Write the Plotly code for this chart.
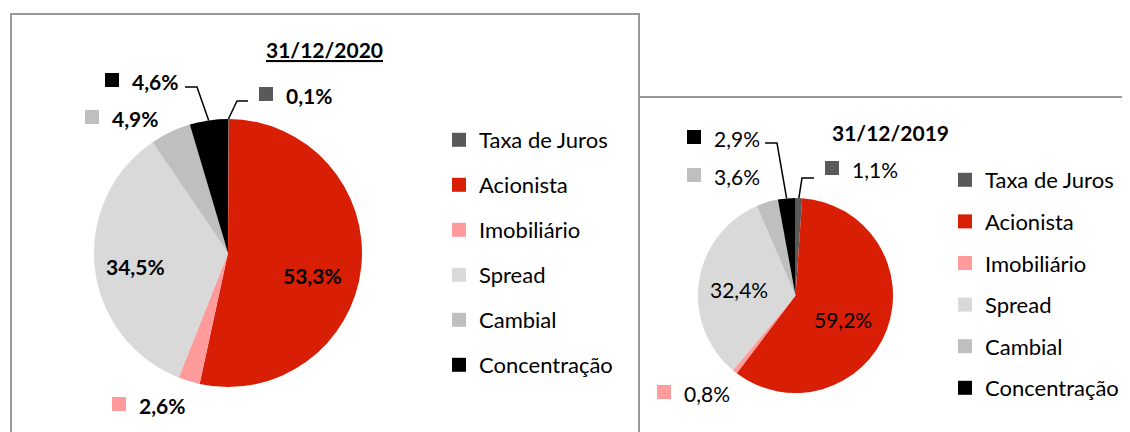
import math
import plotly.graph_objects as go

# ---------------- data ----------------
categories = ["Taxa de Juros", "Acionista", "Imobiliário", "Spread", "Cambial", "Concentração"]
values_2020 = [0.1, 53.3, 2.6, 34.5, 4.9, 4.6]
values_2019 = [1.1, 59.2, 0.8, 32.4, 3.6, 2.9]
title_2020 = "31/12/2020"
title_2019 = "31/12/2019"
colors = ["#595959", "#D91E06", "#FF9B9B", "#D9D9D9", "#BFBFBF", "#000000"]

# ---------------- layout helpers ----------------
PAGE_OFFSET = 8            # default body margin of the html page
W, H = 1130 - PAGE_OFFSET, 432 - PAGE_OFFSET
FONT = "Lato, 'Open Sans', sans-serif"
FS = 21
FS_LEG = 22


def X(px):
    return (px - PAGE_OFFSET) / W


def Y(py):
    return 1 - (py - PAGE_OFFSET) / H


def fmt(v):
    return f"{v:.1f}%".replace(".", ",")


# pie geometry (window pixels): center x, center y, radius
PIE_2020 = (228, 253, 134)
PIE_2019 = (795.5, 295.5, 97.5)


def domain(geom):
    cx, cy, r = geom
    return dict(x=[X(cx - r), X(cx + r)], y=[Y(cy + r), Y(cy - r)])


def slice_edge(values, idx, geom):
    cx, cy, r = geom
    total = sum(values)
    mid = (sum(values[:idx]) + values[idx] / 2) / total
    a = 2 * math.pi * mid
    return cx + r * math.sin(a), cy - r * math.cos(a)


fig = go.Figure()

for vals, geom in ((values_2020, PIE_2020), (values_2019, PIE_2019)):
    fig.add_trace(go.Pie(
        labels=categories, values=vals, sort=False, direction="clockwise", rotation=0,
        marker=dict(colors=colors, line=dict(width=0)),
        textinfo="none", showlegend=False, hoverinfo="label+percent",
        domain=domain(geom),
    ))

# legend entries (one group per category so spacing can be set)
for legend_name, tag in (("legend", "a"), ("legend2", "b")):
    for cat, col in zip(categories, colors):
        fig.add_trace(go.Scatter(
            x=[None], y=[None], mode="markers", name=cat,
            marker=dict(symbol="square", size=14, color=col, line=dict(width=0)),
            legendgroup=f"{tag}-{cat}", legend=legend_name, showlegend=True,
        ))

shapes = []
annotations = []

# panel borders
border = dict(color="#999999", width=2)
shapes.append(dict(type="rect", xref="paper", yref="paper", x0=X(11), x1=X(639), y0=Y(14), y1=Y(445),
                   line=border, fillcolor="rgba(0,0,0,0)", layer="below"))
shapes.append(dict(type="rect", xref="paper", yref="paper", x0=X(639), x1=X(1140), y0=Y(97), y1=Y(445),
                   line=border, fillcolor="rgba(0,0,0,0)", layer="below"))

# titles
annotations.append(dict(text=f"<b>{title_2020}</b>", x=X(324), y=Y(49), xref="paper", yref="paper",
                        showarrow=False, xanchor="center", yanchor="middle",
                        font=dict(family=FONT, size=FS, color="black", lineposition="under")))
annotations.append(dict(text=f"<b>{title_2019}</b>", x=X(890), y=Y(133), xref="paper", yref="paper",
                        showarrow=False, xanchor="center", yanchor="middle",
                        font=dict(family=FONT, size=FS, color="black")))

# label placement (window pixels)
outside_2020 = {  # idx: (square left x, center y)
    0: (259, 94), 2: (112, 404), 4: (85, 117), 5: (105, 80),
}
inside_2020 = {1: (312, 275), 3: (135, 266)}
outside_2019 = {0: (825, 168), 2: (657, 392), 4: (687, 175), 5: (687, 137)}
inside_2019 = {1: (843, 319), 3: (739, 289)}
# leader lines: idx -> (label-side start point, elbow point)
leaders_2020 = {5: ((185, 87), (197, 87)), 0: ((248, 101), (237, 101))}
leaders_2019 = {5: ((765, 143), (777, 143)), 0: ((814, 178), (802, 178))}

SQ = 14
for vals, geom, outside, inside, leaders, bold in (
    (values_2020, PIE_2020, outside_2020, inside_2020, leaders_2020, True),
    (values_2019, PIE_2019, outside_2019, inside_2019, leaders_2019, False),
):
    wrap = (lambda s: f"<b>{s}</b>") if bold else (lambda s: s)
    for idx, (sx, sy) in outside.items():
        shapes.append(dict(type="rect", xref="paper", yref="paper",
                           x0=X(sx), x1=X(sx + SQ), y0=Y(sy + SQ / 2), y1=Y(sy - SQ / 2),
                           line=dict(width=0), fillcolor=colors[idx]))
        annotations.append(dict(text=wrap(fmt(vals[idx])), x=X(sx + SQ + 11), y=Y(sy + 1),
                                xref="paper", yref="paper", showarrow=False,
                                xanchor="left", yanchor="middle",
                                font=dict(family=FONT, size=FS, color="black")))
    for idx, (tx, ty) in inside.items():
        annotations.append(dict(text=wrap(fmt(vals[idx])), x=X(tx), y=Y(ty),
                                xref="paper", yref="paper", showarrow=False,
                                xanchor="center", yanchor="middle",
                                font=dict(family=FONT, size=FS, color="black")))
    for idx, (p0, p1) in leaders.items():
        ex, ey = slice_edge(vals, idx, geom)
        path = f"M {X(p0[0])},{Y(p0[1])} L {X(p1[0])},{Y(p1[1])} L {X(ex)},{Y(ey)}"
        shapes.append(dict(type="path", xref="paper", yref="paper", path=path,
                           line=dict(color="black", width=1.5)))

legend_common = dict(xanchor="left", yanchor="top", bgcolor="rgba(0,0,0,0)",
                     font=dict(family=FONT, size=FS_LEG, color="black"),
                     itemclick=False, itemdoubleclick=False, traceorder="grouped")

fig.update_layout(
    width=W, height=H, autosize=False,
    margin=dict(l=0, r=0, t=0, b=0, pad=0),
    paper_bgcolor="white", plot_bgcolor="white",
    separators=",.",
    xaxis=dict(visible=False, range=[0, 1]),
    yaxis=dict(visible=False, range=[0, 1]),
    shapes=shapes, annotations=annotations,
    legend=dict(x=X(439), y=Y(119), tracegroupgap=13.4, **legend_common),
    legend2=dict(x=X(945), y=Y(159), tracegroupgap=10, **legend_common),
    font=dict(family=FONT),
)

fig.write_html("out.html")
